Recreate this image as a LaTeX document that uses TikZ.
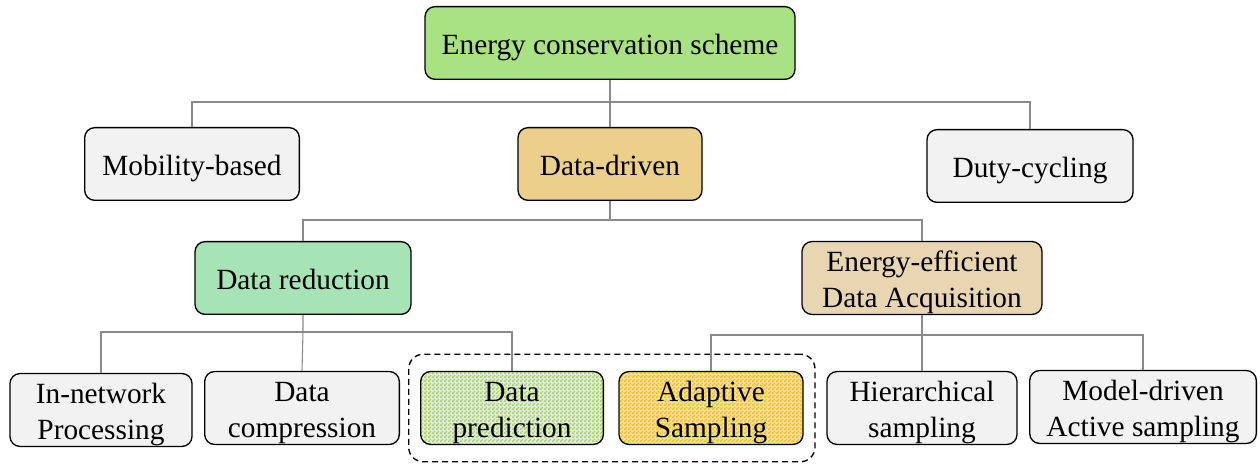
\documentclass[tikz,border=0pt]{standalone}
\usepackage{fontspec}
\setmainfont{Liberation Serif}
\usetikzlibrary{fit,patterns}

\definecolor{rootgreen}{HTML}{A9E283}
\definecolor{drivenbrown}{HTML}{EBCF8A}
\definecolor{redgreen}{HTML}{A6E3B5}
\definecolor{acqtan}{HTML}{E8D6B2}
\definecolor{leafgray}{HTML}{F2F2F2}
\definecolor{linegray}{HTML}{8A8A8A}
\definecolor{predlight}{HTML}{E2F0CC}
\definecolor{preddark}{HTML}{A6CE68}
\definecolor{adaptlight}{HTML}{F8E28A}
\definecolor{adaptdark}{HTML}{EEBE22}

% fine two-colour checker used inside the grouped boxes
\pgfdeclarepatternformonly{finechecker}{\pgfpointorigin}{\pgfqpoint{3pt}{3pt}}{\pgfqpoint{3pt}{3pt}}{%
  \pgfpathrectangle{\pgfpointorigin}{\pgfqpoint{1.5pt}{1.5pt}}%
  \pgfpathrectangle{\pgfqpoint{1.5pt}{1.5pt}}{\pgfqpoint{1.5pt}{1.5pt}}%
  \pgfusepath{fill}}

% struts that fix the vertical placement of the labels inside the boxes
\newcommand{\topst}{\rule{0pt}{22.7pt}}
\newcommand{\botst}{\rule[-5.5pt]{0pt}{5.5pt}}
\newcommand{\oneline}[1]{\topst#1\botst}
\newcommand{\twoline}[2]{\topst#1\\#2\botst}

\tikzset{
  box/.style={draw=black, line width=1pt, rounded corners=7.5pt,
    minimum height=54.5pt, inner sep=0pt, align=center,
    font=\fontsize{22}{26.5}\selectfont},
  leaf/.style={box, fill=leafgray},
  checker/.style 2 args={box, preaction={fill=#1}, pattern=finechecker, pattern color=#2},
  link/.style={draw=linegray, line width=0.8pt},
  group/.style={draw=black, dashed, dash pattern=on 4.5pt off 3pt, line width=1pt,
    rounded corners=11pt, inner xsep=8.5pt, inner ysep=12.5pt}
}

\begin{document}
\begin{tikzpicture}[x=0.75pt, y=-0.75pt]
\useasboundingbox (0,0) rectangle (1260,466);

% top level
\node[box, fill=rootgreen, minimum width=277.5pt] (root) at (610,43) {\oneline{Energy conservation scheme}};

% second level
\node[leaf, minimum width=161pt] (mob) at (192,164) {\oneline{Mobility-based}};
\node[box, fill=drivenbrown, minimum width=138pt] (dd) at (610,164) {\oneline{Data-driven}};
\node[leaf, minimum width=154.5pt] (duty) at (1030,166) {\oneline{Duty-cycling}};

% third level
\node[box, fill=redgreen, minimum width=162pt] (red) at (303,278) {\oneline{Data reduction}};
\node[box, fill=acqtan, minimum width=180pt] (acq) at (922,278) {\twoline{Energy-efficient}{Data Acquisition}};

% leaves
\node[leaf, minimum width=136.5pt] (inp) at (101,410) {\twoline{In-network}{Processing}};
\node[leaf, minimum width=146pt] (comp) at (302,408) {\twoline{Data}{compression}};
\node[checker={predlight}{preddark}, minimum width=137pt] (pred) at (512,408) {\twoline{Data}{prediction}};
\node[checker={adaptlight}{adaptdark}, minimum width=138pt] (adapt) at (711,408) {\twoline{Adaptive}{Sampling}};
\node[leaf, minimum width=142.5pt] (hier) at (922,408) {\twoline{Hierarchical}{sampling}};
\node[leaf, minimum width=170pt] (model) at (1143,407) {\twoline{Model-driven}{Active sampling}};

% dashed group around the two patterned boxes
\node[group, fit=(pred)(adapt)] (grp) {};

% junction points of the tree
\coordinate (j1) at (610,102);
\coordinate (j2) at (610,220);
\coordinate (j3) at (303,332);
\coordinate (j4) at (922,335);

% connectors
\draw[link] (root.south) -- (j1) -- (dd.north);
\draw[link] (mob.north) |- (j1) -| (duty.north);

\draw[link] (dd.south) -- (j2);
\draw[link] (red.north) |- (j2) -| (acq.north);

\draw[link] (red.south) -- (j3) -- (comp.north);
\draw[link] (inp.north) |- (j3) -| (pred.north);

\draw[link] (acq.south) -- (j4) -- (hier.north);
\draw[link] (adapt.north) |- (j4) -| (model.north);
\end{tikzpicture}
\end{document}
